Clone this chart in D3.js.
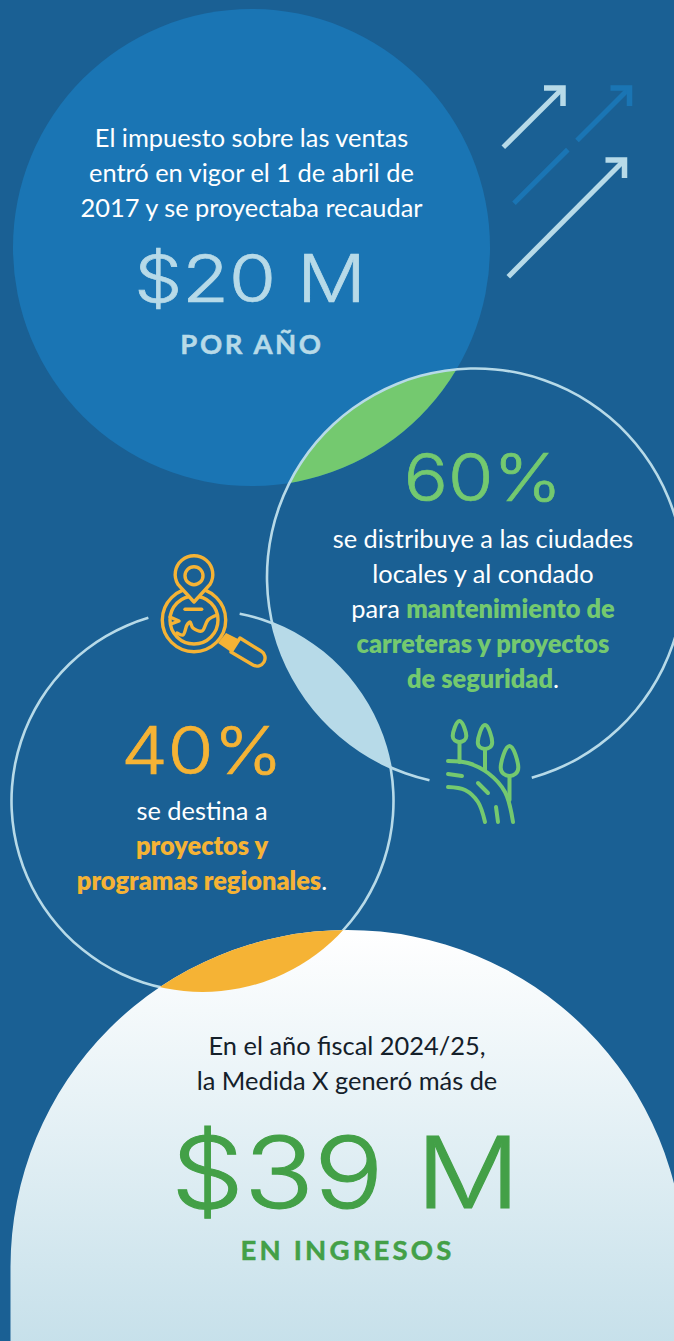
<!DOCTYPE html>
<html><head><meta charset="utf-8">
<script src="https://cdn.jsdelivr.net/npm/d3@7/dist/d3.min.js"></script>
<style>html,body{margin:0;padding:0;background:#1a6094}svg{display:block}text{font-family:Lato,"Open Sans",sans-serif}text.big{font-family:Inter,Lato,sans-serif}</style>
</head><body><div id="c"></div>
<script>
// Content
const amounts = ["$20 M", "$39 M"];
const amountLabels = ["POR AÑO", "EN INGRESOS"];
const shares = ["60%", "40%"];
const introLines = ["El impuesto sobre las ventas", "entró en vigor el 1 de abril de", "2017 y se proyectaba recaudar"];
const share60Lines = [[["se distribuye a las ciudades",0]],[["locales y al condado",0]],[["para ",0],["mantenimiento de",1]],[["carreteras y proyectos",1]],[["de seguridad",1],[".",0]]];
const share40Lines = [[["se destina a",0]],[["proyectos y",1]],[["programas regionales",1],[".",0]]];
const outroLines = ["En el año fiscal 2024/25,", "la Medida X generó más de"];

const W=674,H=1341;
const col={bg:"#1a6094",blue:"#1a75b4",light:"#b7dae8",green:"#74c96f",orange:"#f5b335",dark:"#43a047"};
const svg=d3.select("#c").append("svg").attr("width",W).attr("height",H).attr("viewBox",`0 0 ${W} ${H}`);
svg.append("rect").attr("width",W).attr("height",H).attr("fill",col.bg);
const defs=svg.append("defs");
const grad=defs.append("linearGradient").attr("id","g").attr("x1",0).attr("y1",0).attr("x2",0).attr("y2",1);
grad.append("stop").attr("offset",0).attr("stop-color","#ffffff");
grad.append("stop").attr("offset",1).attr("stop-color","#c6e0ea");

const C1={x:251.5,y:247.5,r:238.5}, C2={x:475.5,y:577,r:208.5}, C3={x:202.5,y:801,r:191};
const B={x:347.5,y:1267,r:337};
const bottomPath=(()=>{const p=d3.path();p.moveTo(B.x-B.r,H+5);p.lineTo(B.x-B.r,B.y);p.arc(B.x,B.y,B.r,Math.PI,2*Math.PI);p.lineTo(B.x+B.r,H+5);p.closePath();return p.toString();})();
function clip(id,c){defs.append("clipPath").attr("id",id).append("circle").attr("cx",c.x).attr("cy",c.y).attr("r",c.r);}
clip("c1",C1);clip("c2",C2);clip("c3",C3);

svg.append("circle").attr("cx",C1.x).attr("cy",C1.y).attr("r",C1.r).attr("fill",col.blue);
svg.append("circle").attr("cx",C2.x).attr("cy",C2.y).attr("r",C2.r).attr("fill",col.green).attr("clip-path","url(#c1)");
svg.append("circle").attr("cx",C3.x).attr("cy",C3.y).attr("r",C3.r).attr("fill",col.light).attr("clip-path","url(#c2)");

// ring outlines with gaps at the icons (d3.arc, angles from 12 o'clock clockwise)
const ang=(c,x,y)=>Math.atan2(x-c.x,-(y-c.y));
function ring(c,a0,a1){
  svg.append("path").attr("transform",`translate(${c.x},${c.y})`)
   .attr("d",d3.arc().innerRadius(c.r-1.3).outerRadius(c.r+1.3).startAngle(a0).endAngle(a1)())
   .attr("fill",col.light);
}
ring(C2,ang(C2,430,778),ang(C2,531,775));
ring(C3,ang(C3,239,617),ang(C3,149,620)+2*Math.PI);
svg.append("path").attr("d",bottomPath).attr("fill","url(#g)");
svg.append("path").attr("d",bottomPath).attr("fill",col.orange).attr("clip-path","url(#c3)");

function t(x,y,s,size,fill,weight,ls){
  return svg.append("text").attr("x",x).attr("y",y).attr("text-anchor","middle").attr("font-size",size)
   .attr("fill",fill).attr("font-weight",weight||400).attr("letter-spacing",ls||0).text(s);
}
// large figures: Inter stretched to the wide geometric proportions of the original face
function big(cx,y,s,size,fill,sx){
  return svg.append("text").attr("class","big").attr("transform",`translate(${cx},${y}) scale(${sx},1)`)
   .attr("text-anchor","middle").attr("font-size",size).attr("font-weight",300).attr("fill",fill)
   .attr("stroke",fill).attr("stroke-width",size*0.011).text(s);
}
function rich(x,y,runs,size,accent){
  const e=svg.append("text").attr("x",x).attr("y",y).attr("text-anchor","middle").attr("font-size",size);
  runs.forEach(([s,b])=>e.append("tspan").text(s).attr("fill",b?accent:"#fff").attr("font-weight",b?800:400));
}
const BODY=25.4;
introLines.forEach((s,i)=>t(251.5,147+i*35,s,BODY,"#fff",400));
big(250,302,amounts[0],65.6,col.light,1.16);
t(252,353.5,amountLabels[0],27.5,col.light,700,2.6).attr("stroke",col.light).attr("stroke-width",0.5);
big(483,501,shares[0],65.6,col.green,1.12);
share60Lines.forEach((r,i)=>rich(483,548+i*35,r,BODY,col.green));
big(202,774,shares[1],65.6,col.orange,1.128);
share40Lines.forEach((r,i)=>rich(202,820+i*35,r,BODY,col.orange));
outroLines.forEach((s,i)=>t(347,1055+i*35,s,BODY,"#14202a",400));
big(345.5,1208,amounts[1],99,col.dark,1.167);
t(347.5,1259.5,amountLabels[1],27.5,col.dark,700,3.2).attr("stroke",col.dark).attr("stroke-width",0.5);

// Arrows
function arrow(x0,y0,x1,y1,color,dash){
  const g=svg.append("g").attr("fill","none").attr("stroke",color).attr("stroke-width",5.5);
  const l=g.append("path").attr("d",d3.line()([[x0,y0],[x1-1.5,y1+1.5]])).attr("stroke-width",5);
  if(dash) l.attr("stroke-dasharray",dash);
  g.append("path").attr("stroke-linejoin","miter").attr("d",d3.line()([[x1-19,y1],[x1,y1],[x1,y1+18]]));
}
arrow(503.3,147.3,563,88,col.light);
arrow(514,203.3,629.5,88,col.blue,"76 13 300");
arrow(508.3,276.7,624.5,160,col.light);

// Search icon
const gi=svg.append("g").attr("fill","none").attr("stroke",col.orange).attr("stroke-width",3.4).attr("stroke-linecap","round").attr("stroke-linejoin","round");
gi.append("circle").attr("cx",194).attr("cy",620).attr("r",31.7);
gi.append("circle").attr("cx",194).attr("cy",620).attr("r",24);
const pin=d3.path();pin.moveTo(194,602);pin.lineTo(178,584.4);pin.arc(194,574.5,18.8,2.59,0.554+2*Math.PI);pin.closePath();
gi.append("path").attr("d",pin.toString()).attr("fill",col.bg);
gi.append("circle").attr("cx",194).attr("cy",575.7).attr("r",9);
gi.append("path").attr("d",d3.line()([[185,609.3],[201.7,609.3]]));
const cv=d3.line().curve(d3.curveCatmullRom);
gi.append("path").attr("d",cv([[177,633],[183,635],[187,625],[190,622],[193,628],[202,631],[208,620],[217,615]]));
gi.append("path").attr("d",d3.line()([[170,617],[179,621],[171,624]]));
svg.append("path").attr("d",d3.line()([[218,643],[226,633],[240,640],[231,652]])+"Z").attr("fill",col.orange);
gi.append("path").attr("d","M240 638 L261 651 A8 8 0 0 1 253 665 L231 652 Z");

// Field icon
const gf=svg.append("g").attr("fill","none").attr("stroke",col.green).attr("stroke-width",4).attr("stroke-linecap","round").attr("stroke-linejoin","round");
function tree(x,top,bot,hw,stem){
  const h=bot-top, p=d3.path();
  p.moveTo(x,top);
  p.bezierCurveTo(x+hw*.5,top,x+hw,bot-h*.45,x+hw,bot-h*.28);
  p.bezierCurveTo(x+hw,bot+h*.09,x-hw,bot+h*.09,x-hw,bot-h*.28);
  p.bezierCurveTo(x-hw,bot-h*.45,x-hw*.5,top,x,top);
  gf.append("path").attr("d",p.toString());
  gf.append("path").attr("d",d3.line()([[x,bot],[x,stem]]));
}
tree(459.5,721,742,6.8,762);
tree(485,725,749,7.2,770);
tree(509.5,746,776,8.8,800);
gf.append("path").attr("d",cv([[448,761],[468,763],[488,773],[505,792],[513,822]]));
gf.append("path").attr("d",cv([[448,774],[462,776]]));
gf.append("path").attr("d",cv([[448,787],[465,790],[478,802],[485,822]]));
gf.append("path").attr("d",cv([[478,783],[488,793]]));
gf.append("path").attr("d",cv([[496,807],[498,822]]));
</script></body></html>
